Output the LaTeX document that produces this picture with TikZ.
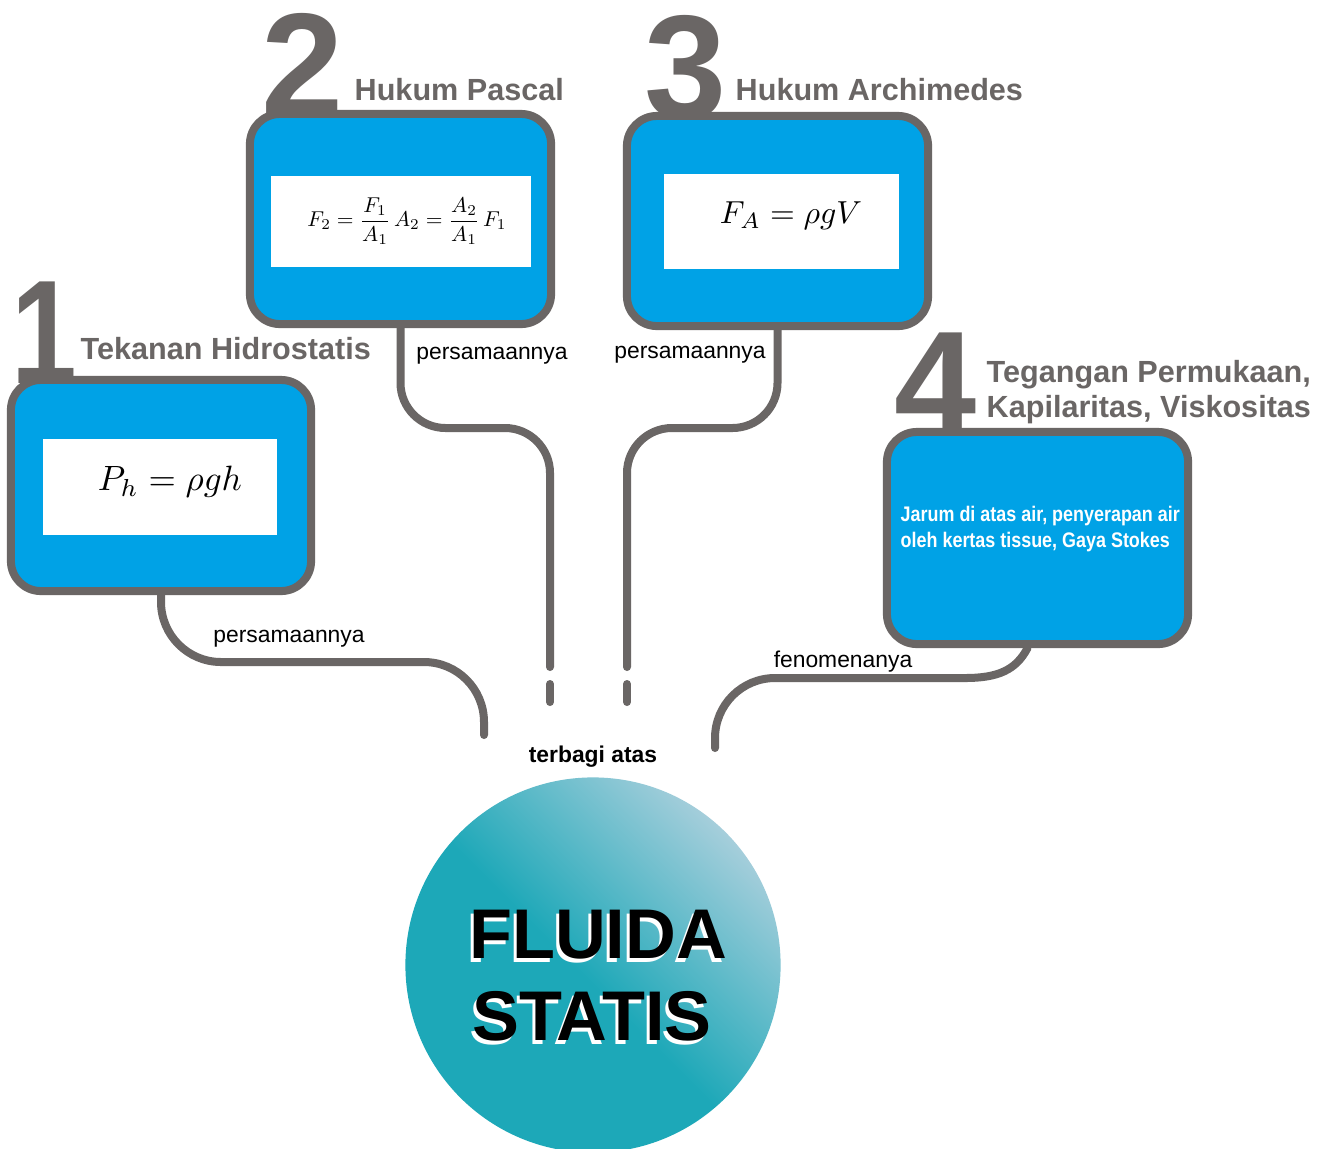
\documentclass[tikz,border=0pt]{standalone}
\usepackage[no-math]{fontspec}
\setmainfont{Liberation Sans}
\usepackage{amsmath}
\usepackage{graphicx}
\usetikzlibrary{calc}
\definecolor{lgray}{HTML}{6A6665}
\definecolor{fblue}{HTML}{00A2E6}
\definecolor{tealA}{HTML}{1DA8B8}
\definecolor{tealB}{HTML}{A5CEDB}
\pgfdeclarehorizontalshading{circshade}{100bp}{color(0bp)=(tealA); color(48bp)=(tealA); color(75bp)=(tealB); color(100bp)=(tealB)}
\begin{document}
\begin{tikzpicture}[x=0.01cm,y=-0.01cm,
  numstyle/.style={font=\fontsize{42}{42}\selectfont\bfseries, text=lgray, anchor=base, inner sep=0},
  ttl/.style={font=\fontsize{8.7}{10}\selectfont\bfseries, text=lgray, anchor=base west, inner sep=0},
  box/.style={draw=lgray, fill=fblue, line width=0.08cm, rounded corners=0.3cm, minimum width=3.0cm, minimum height=2.11cm, inner sep=0},
  wbox/.style={fill=white, inner sep=0},
  conn/.style={draw=lgray, line width=0.08cm, line cap=round},
  lbl/.style={font=\fontsize{6.5}{8}\selectfont, inner sep=0, anchor=base},
  btxt/.style={font=\fontsize{6}{7}\selectfont\bfseries, text=white, anchor=base west, inner sep=0},
  big/.style={font=\fontsize{20}{20}\selectfont\bfseries, inner sep=0, anchor=base}]
\useasboundingbox (0,0) rectangle (1328,1148);
\fill[white] (0,0) rectangle (1328,1148);

% big digits (behind boxes)
\node[numstyle] (n1) at (44,383) {\scalebox{0.8}[1]{1}};
\node[numstyle] (n2) at (303,116) {2};
\node[numstyle] (n3) at (686,118) {3};
\node[numstyle] (n4) at (936,434) {4};

% boxes
\node[box] (b1) at (161,485.5) {};
\node[box, minimum width=3.01cm, minimum height=2.10cm] (b2) at (400.5,219) {};
\node[box, minimum width=3.01cm, minimum height=2.10cm] (b3) at (777.5,221) {};
\node[box, minimum width=3.01cm, minimum height=2.12cm] (b4) at (1037.5,538) {};

% white formula panels
\node[wbox, minimum width=2.34cm, minimum height=0.96cm] (w1) at (160,487) {};
\node[wbox, minimum width=2.60cm, minimum height=0.91cm] (w2) at (401,221.5) {};
\node[wbox, minimum width=2.35cm, minimum height=0.95cm] (w3) at (781.5,221.5) {};

% formulas
\node[inner sep=0] (f1) at (170,482) {\resizebox{1.44cm}{!}{$P_h=\rho g h$}};
\node[inner sep=0] (f2) at (407,221) {\resizebox{1.99cm}{!}{$F_2=\dfrac{F_1}{A_1}\,A_2=\dfrac{A_2}{A_1}\,F_1$}};
\node[inner sep=0] (f3) at (791,216) {\resizebox{1.42cm}{!}{$F_A=\rho g V$}};

% titles
\node[ttl] (t1) at (80,359) {Tekanan Hidrostatis};
\node[ttl] (t2) at (354,100) {Hukum Pascal};
\node[ttl] (t3) at (735,100) {Hukum Archimedes};
\node[ttl] (t4a) at (986,382) {Tegangan Permukaan,};
\node[ttl] (t4b) at (986,417) {Kapilaritas, Viskositas};

% box 4 text
\node[btxt] (x4a) at (900,521) {\scalebox{0.85}[1]{Jarum di atas air, penyerapan air}};
\node[btxt] (x4b) at (900,547) {\scalebox{0.85}[1]{oleh kertas tissue, Gaya Stokes}};

% connector end points
\coordinate (e1) at (484,735);
\coordinate (e2) at (550,667);
\coordinate (e3) at (627,667);
\coordinate (e4) at (715,748);
\coordinate (d2a) at (550,684);
\coordinate (d2b) at (550,702);
\coordinate (d3a) at (627,684);
\coordinate (d3b) at (627,702);
\coordinate (s4) at ($(b4.south)+(-10,0)$);

% connectors
\draw[conn, rounded corners=0.6cm] (b1.south) |- (484,662) -- (e1);
\draw[conn, rounded corners=0.45cm] (b2.south) |- (550,428) -- (e2);
\draw[conn] (d2a) -- (d2b);
\draw[conn, rounded corners=0.45cm] (b3.south) |- (627,428) -- (e3);
\draw[conn] (d3a) -- (d3b);
\draw[conn] (s4) .. controls (1016,670) and (998,678) .. (965,678) [rounded corners=0.6cm] -- (715,678) -- (e4);

% connector labels
\node[lbl] (l1) at (289,642) {persamaannya};
\node[lbl] (l2) at (492,359) {persamaannya};
\node[lbl] (l3) at (690,358) {persamaannya};
\node[lbl] (l4) at (843,667) {fenomenanya};
\node[lbl, font=\fontsize{6.5}{8}\selectfont\bfseries] (tb) at (593,762) {terbagi atas};

% central circle
\node[circle, minimum size=3.75cm, inner sep=0, shade, shading=circshade, shading angle=45] (c) at (593,965) {};
\node[big, text=white] (fs1) at (595,962) {FLUIDA};
\node[big] (ft1) at (598,958) {FLUIDA};
\node[big, text=white] (fs2) at (589,1044) {STATIS};
\node[big] (ft2) at (592,1040) {STATIS};
\end{tikzpicture}
\end{document}
